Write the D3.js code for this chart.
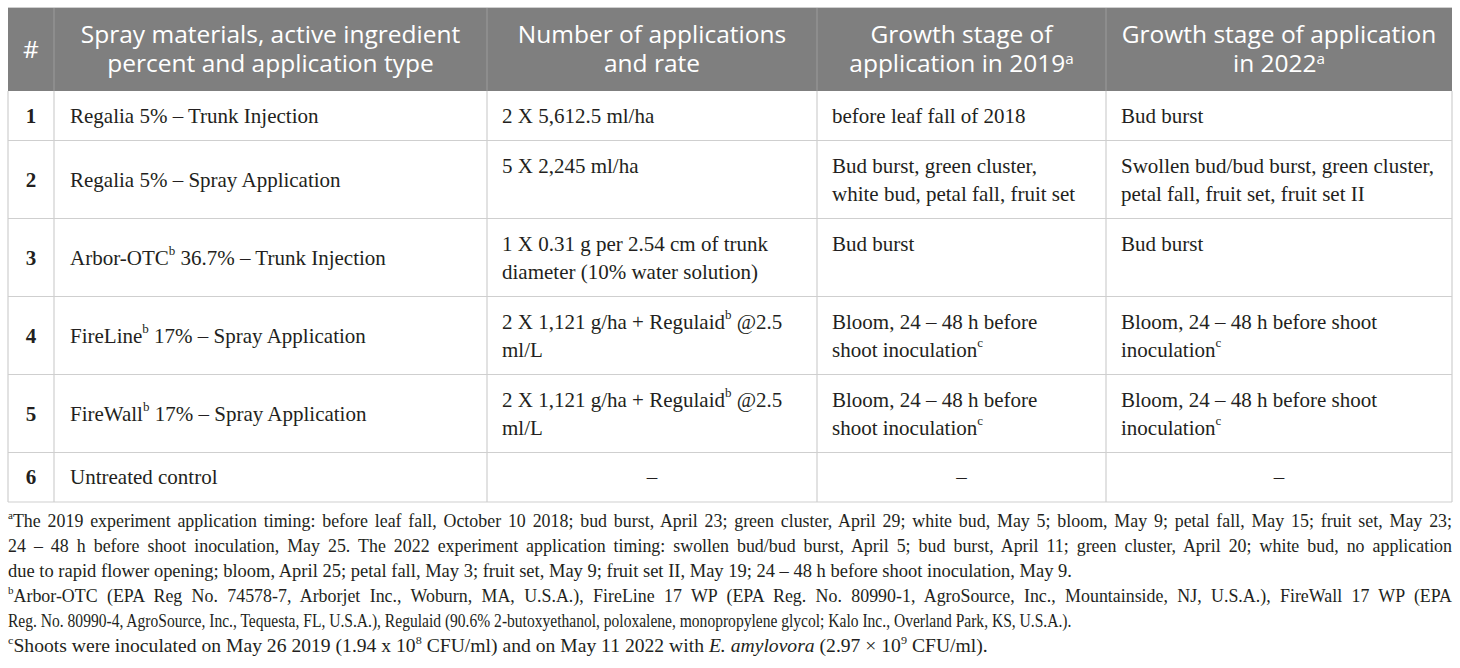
<!DOCTYPE html>
<html>
<head>
<meta charset="utf-8">
<script src="https://cdn.jsdelivr.net/npm/d3@7/dist/d3.min.js"></script>
<style>
  body { margin: 0; background: #fff; }
  svg { display: block; }
</style>
</head>
<body>
<script>
  // ---------------- Data ----------------
  const headers = [
    ["#"],
    ["Spray materials, active ingredient", "percent and application type"],
    ["Number of applications", "and rate"],
    ["Growth stage of", "application in 2019<sup>a</sup>"],
    ["Growth stage of application", "in 2022<sup>a</sup>"]
  ];

  const treatmentNo = ["1", "2", "3", "4", "5", "6"];

  const treatments = [
    "Regalia 5% – Trunk Injection",
    "Regalia 5% – Spray Application",
    "Arbor-OTC<sup>b</sup> 36.7% – Trunk Injection",
    "FireLine<sup>b</sup> 17% – Spray Application",
    "FireWall<sup>b</sup> 17% – Spray Application",
    "Untreated control"
  ];

  const rates = [
    ["2 X 5,612.5 ml/ha"],
    ["5 X 2,245 ml/ha"],
    ["1 X 0.31 g per 2.54 cm of trunk", "diameter (10% water solution)"],
    ["2 X 1,121 g/ha + Regulaid<sup>b</sup> @2.5", "ml/L"],
    ["2 X 1,121 g/ha + Regulaid<sup>b</sup> @2.5", "ml/L"],
    ["–"]
  ];

  const stage2019 = [
    ["before leaf fall of 2018"],
    ["Bud burst, green cluster,", "white bud, petal fall, fruit set"],
    ["Bud burst"],
    ["Bloom, 24 – 48 h before", "shoot inoculation<sup>c</sup>"],
    ["Bloom, 24 – 48 h before", "shoot inoculation<sup>c</sup>"],
    ["–"]
  ];

  const stage2022 = [
    ["Bud burst"],
    ["Swollen bud/bud burst, green cluster,", "petal fall, fruit set, fruit set II"],
    ["Bud burst"],
    ["Bloom, 24 – 48 h before shoot", "inoculation<sup>c</sup>"],
    ["Bloom, 24 – 48 h before shoot", "inoculation<sup>c</sup>"],
    ["–"]
  ];

  // footnote lines; true = justified to full width
  const footLines = [
    "<sup>a</sup>The 2019 experiment application timing: before leaf fall, October 10 2018; bud burst, April 23; green cluster, April 29; white bud, May 5; bloom, May 9; petal fall, May 15; fruit set, May 23;",
    "24 – 48 h before shoot inoculation, May 25. The 2022 experiment application timing: swollen bud/bud burst, April 5; bud burst, April 11; green cluster, April 20; white bud, no application",
    "due to rapid flower opening; bloom, April 25; petal fall, May 3; fruit set, May 9; fruit set II, May 19; 24 – 48 h before shoot inoculation, May 9.",
    "<sup>b</sup>Arbor-OTC (EPA Reg No. 74578-7, Arborjet Inc., Woburn, MA, U.S.A.), FireLine 17 WP (EPA Reg. No. 80990-1, AgroSource, Inc., Mountainside, NJ, U.S.A.), FireWall 17 WP (EPA",
    "Reg. No. 80990-4, AgroSource, Inc., Tequesta, FL, U.S.A.), Regulaid (90.6% 2-butoxyethanol, poloxalene, monopropylene glycol; Kalo Inc., Overland Park, KS, U.S.A.).",
    "<sup>c</sup>Shoots were inoculated on May 26 2019 (1.94 x 10<sup>8</sup> CFU/ml) and on May 11 2022 with <i>E. amylovora</i> (2.97 × 10<sup>9</sup> CFU/ml)."
  ];
  const footJustify = [true, true, false, true, false, false];

  // ---------------- Layout ----------------
  const W = 1460, H = 668;
  const tLeft = 8, tRight = 1452, tTop = 8, headH = 83;
  const colW = [46, 433, 330, 289, 346];
  const edges = [tLeft].concat(Array.from(d3.cumsum(colW), v => tLeft + v));
  const x = d3.scaleOrdinal().domain(d3.range(6)).range(edges);

  const lineCount = treatments.map((_, i) =>
    Math.max(rates[i].length, stage2019[i].length, stage2022[i].length));
  const rowH = lineCount.map(n => n > 1 ? 78 : 49.5);
  const rowTop = [tTop + headH].concat(Array.from(d3.cumsum(rowH), v => tTop + headH + v));
  const tableBottom = rowTop[rowTop.length - 1];

  const serif = "'Liberation Serif', 'Times New Roman', serif";
  const sans = "'Open Sans', 'Noto Sans', sans-serif";
  const ink = "#231f20";
  const gridColor = "#cfcfcf";

  const svg = d3.select("body").append("svg")
    .attr("width", W).attr("height", H);

  svg.append("rect").attr("width", W).attr("height", H).attr("fill", "#fff");

  // tiny markup: <sup>..</sup>, <i>..</i>
  function rich(text, str, rise = 0.72) {
    const re = /<sup>(.*?)<\/sup>|<i>(.*?)<\/i>|([^<]+)/g;
    let m, raised = false;
    while ((m = re.exec(str)) !== null) {
      if (m[1] !== undefined) {
        text.append("tspan").attr("font-size", "0.62em").attr("dy", `-${rise}em`).text(m[1]);
        raised = true;
      } else {
        const t = text.append("tspan").text(m[2] !== undefined ? m[2] : m[3]);
        if (m[2] !== undefined) t.attr("font-style", "italic");
        if (raised) { t.attr("dy", `${rise * 0.62}em`); raised = false; }
      }
    }
    return text;
  }

  // ---------------- Header ----------------
  svg.append("rect")
    .attr("x", tLeft).attr("y", tTop)
    .attr("width", tRight - tLeft).attr("height", headH)
    .attr("fill", "#7f7f7f");

  svg.append("line")
    .attr("x1", tLeft).attr("x2", tRight).attr("y1", tTop - 0.5).attr("y2", tTop - 0.5)
    .attr("stroke", gridColor);

  headers.forEach((lines, c) => {
    const cx = (x(c) + x(c + 1)) / 2;
    const mid = tTop + headH / 2;
    lines.forEach((ln, k) => {
      const t = svg.append("text")
        .attr("x", cx)
        .attr("y", mid + 8 + (k - (lines.length - 1) / 2) * 29)
        .attr("text-anchor", "middle")
        .attr("font-family", sans)
        .attr("font-size", 24.5)
        .attr("fill", "#fff");
      rich(t, ln, 0.55);
    });
  });

  // ---------------- Grid ----------------
  const grid = svg.append("g").attr("stroke", gridColor).attr("stroke-width", 1.2);

  rowTop.slice(1).forEach(y => {
    grid.append("line")
      .attr("x1", tLeft).attr("x2", tRight)
      .attr("y1", y).attr("y2", y);
  });

  edges.forEach((ex, i) => {
    grid.append("line")
      .attr("x1", ex).attr("x2", ex)
      .attr("y1", tTop + headH).attr("y2", tableBottom);
    if (i > 0 && i < edges.length - 1) {
      svg.append("line")
        .attr("x1", ex).attr("x2", ex)
        .attr("y1", tTop).attr("y2", tTop + headH)
        .attr("stroke", "#979797").attr("stroke-width", 1.2);
    }
  });

  // ---------------- Body cells ----------------
  const body = svg.append("g")
    .attr("font-family", serif)
    .attr("font-size", 21)
    .attr("fill", ink);

  const pad = 15, firstBase = 32, lineStep = 28;

  treatments.forEach((tr, r) => {
    const y0 = rowTop[r];
    const mid = y0 + rowH[r] / 2;

    body.append("text")
      .attr("x", (x(0) + x(1)) / 2)
      .attr("y", mid + 7)
      .attr("text-anchor", "middle")
      .attr("font-weight", "bold")
      .text(treatmentNo[r]);

    rich(body.append("text").attr("x", x(1) + pad + 1).attr("y", mid + 7), tr);

    [rates, stage2019, stage2022].forEach((col, j) => {
      const c = j + 2;
      col[r].forEach((ln, k) => {
        const dash = ln === "–";
        const t = body.append("text")
          .attr("x", dash ? (x(c) + x(c + 1)) / 2 : x(c) + pad)
          .attr("y", dash ? mid + 7 : y0 + firstBase + k * lineStep)
          .attr("text-anchor", dash ? "middle" : "start");
        rich(t, ln);
      });
    });
  });

  // ---------------- Footnotes ----------------
  const foot = svg.append("g")
    .attr("font-family", serif)
    .attr("font-size", 18)
    .attr("fill", ink);

  const footTop = 527, footStep = 25;
  const fullW = tRight - tLeft;
  // right ends of the ragged (last) lines
  const raggedEnd = { 2: 1072, 4: 1072, 5: 988 };

  const footTexts = footLines.map(ln =>
    rich(foot.append("text").attr("x", 0).attr("y", 0), ln));

  const fit = {};
  Object.keys(raggedEnd).forEach(i => {
    fit[i] = (raggedEnd[i] - tLeft) / footTexts[i].node().getComputedTextLength();
  });
  const baseSqueeze = d3.mean(Object.values(fit));

  footTexts.forEach((t, i) => {
    const s = footJustify[i] ? baseSqueeze : fit[i];
    t.attr("transform", `translate(${tLeft}, ${footTop + i * footStep}) scale(${s}, 1)`);
    if (footJustify[i]) {
      const natural = t.node().getComputedTextLength();
      const spaces = (footLines[i].replace(/<[^>]+>/g, "").match(/ /g) || []).length;
      t.attr("word-spacing", (fullW / s - natural) / spaces);
    }
  });
</script>
</body>
</html>
